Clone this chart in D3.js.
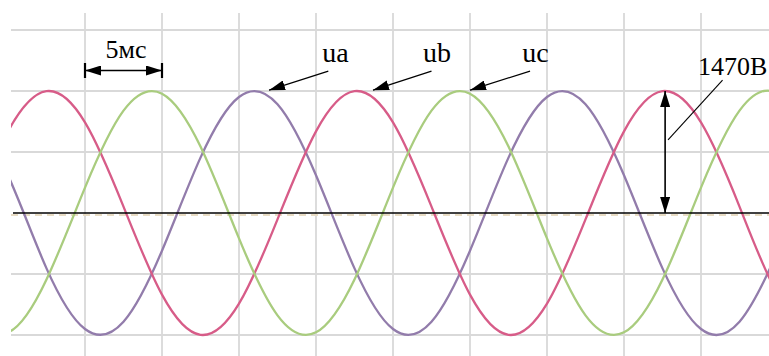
<!DOCTYPE html>
<html>
<head>
<meta charset="utf-8">
<script src="https://cdn.jsdelivr.net/npm/d3@7"></script>
<style>
  html, body { margin: 0; padding: 0; background: #fff; }
  svg { display: block; }
</style>
</head>
<body>
<script>
// Sample times, ms (one sample every 2.5 ms, slightly past both edges)
const timeMs = [-2.5, 0, 2.5, 5, 7.5, 10, 12.5, 15, 17.5, 20, 22.5, 25, 27.5,
                30, 32.5, 35, 37.5, 40, 42.5, 45, 47.5, 50, 52.5];
// Phase voltages, V
const ua = [1310, 454, -667, -1398, -1310, -454, 667, 1398, 1310, 454, -667, -1398,
            -1310, -454, 667, 1398, 1310, 454, -667, -1398, -1310, -454, 667];
const ub = [-77, 984, 1468, 1092, 77, -984, -1468, -1092, -77, 984, 1468, 1092,
            77, -984, -1468, -1092, -77, 984, 1468, 1092, 77, -984, -1468];
const uc = [-1233, -1438, -801, 306, 1233, 1438, 801, -306, -1233, -1438, -801, 306,
            1233, 1438, 801, -306, -1233, -1438, -801, 306, 1233, 1438, 801];

// Grid divisions: 5 ms horizontally, 735 V vertically
const gridTimes = [5, 10, 15, 20, 25, 30, 35, 40, 45];
const gridVolts = [-1470, -735, 0, 735, 1470, 2205];

// Phase labels with their pointer arrows (time in ms, voltage in V)
const phaseNames = ["ua", "ub", "uc"];
const labelTime  = [20.4, 26.95, 33.4];
const tipTime    = [16.95, 23.7, 30.0];
const tailTime   = [20.8, 27.5, 33.9];
const labelVolt = 1820, tipVolt = 1480, tailVolt = 1710;

// Period marker and amplitude marker
const periodSpan = [5, 10];          // ms
const periodText = "5мс";
const amplitude = 1470;              // V
const amplitudeText = "1470В";
const amplitudeTime = 42.67;         // ms, at a ub crest

const W = 769, H = 356;
const SERIF = "'Liberation Serif', 'Times New Roman', 'DejaVu Serif', serif";
const svg = d3.select("body").append("svg").attr("width", W).attr("height", H);
svg.append("rect").attr("width", W).attr("height", H).attr("fill", "#fff");

const x = d3.scaleLinear().domain([0, 50]).range([8, 778]);
const y = d3.scaleLinear().domain([-1470, 1470]).range([335, 91]);

const plotLeft = 11, plotRight = W, plotTop = 13, plotBottom = H;

const defs = svg.append("defs");
defs.append("clipPath").attr("id", "plot")
  .append("rect").attr("x", plotLeft).attr("y", plotTop)
  .attr("width", plotRight - plotLeft).attr("height", plotBottom - plotTop);
defs.append("filter").attr("id", "soft")
  .append("feGaussianBlur").attr("stdDeviation", 0.5);
defs.append("marker")
  .attr("id", "head").attr("viewBox", "0 0 16 10")
  .attr("refX", 16).attr("refY", 5)
  .attr("markerWidth", 16).attr("markerHeight", 10)
  .attr("markerUnits", "userSpaceOnUse")
  .attr("orient", "auto-start-reverse")
  .append("path").attr("d", "M0,0 L16,5 L0,10 Z").attr("fill", "#000");

// Grid
const grid = svg.append("g").attr("filter", "url(#soft)");
grid.selectAll("line.v").data(gridTimes).join("line")
  .attr("class", "v")
  .attr("x1", d => x(d)).attr("x2", d => x(d))
  .attr("y1", plotTop).attr("y2", plotBottom)
  .attr("stroke", "#d9d9d9").attr("stroke-width", 1.8);
grid.selectAll("line.h").data(gridVolts.filter(v => v !== 0)).join("line")
  .attr("class", "h")
  .attr("x1", plotLeft).attr("x2", plotRight)
  .attr("y1", d => y(d)).attr("y2", d => y(d))
  .attr("stroke", "#d9d9d9").attr("stroke-width", 1.8);
// faint trace baseline just under the zero line
grid.append("line")
  .attr("x1", plotLeft).attr("x2", plotRight)
  .attr("y1", y(0) + 2).attr("y2", y(0) + 2)
  .attr("stroke", "#e8dcc4").attr("stroke-width", 2)
  .attr("stroke-dasharray", "7,5");

// Waveforms
const series = [
  { name: "ua", values: ua, color: "#927cab" },
  { name: "ub", values: ub, color: "#d75c88" },
  { name: "uc", values: uc, color: "#a9cc7e" }
];
const line = d3.line()
  .x((d, i) => x(timeMs[i]))
  .y(d => y(d))
  .curve(d3.curveNatural);

const traces = svg.append("g").attr("clip-path", "url(#plot)")
  .append("g").attr("filter", "url(#soft)");
traces.selectAll("path").data(series).join("path")
  .attr("d", d => line(d.values))
  .attr("fill", "none")
  .attr("stroke", d => d.color)
  .attr("stroke-width", 2.3)
  .attr("stroke-linejoin", "round");

// Zero line
svg.append("line")
  .attr("x1", plotLeft + 2).attr("x2", plotRight)
  .attr("y1", y(0)).attr("y2", y(0))
  .attr("stroke", "#000").attr("stroke-width", 1.6);

const ann = svg.append("g");

// Period marker
const py = y(1717);
ann.append("line")
  .attr("x1", x(periodSpan[0])).attr("x2", x(periodSpan[1]))
  .attr("y1", py).attr("y2", py)
  .attr("stroke", "#000").attr("stroke-width", 1.4)
  .attr("marker-start", "url(#head)").attr("marker-end", "url(#head)");
ann.selectAll("line.tick").data(periodSpan).join("line")
  .attr("class", "tick")
  .attr("x1", d => x(d)).attr("x2", d => x(d))
  .attr("y1", py - 7.5).attr("y2", py + 7.5)
  .attr("stroke", "#000").attr("stroke-width", 2.2);
ann.append("text")
  .attr("x", x(7.66)).attr("y", y(1868))
  .attr("text-anchor", "middle")
  .attr("font-family", SERIF)
  .attr("font-size", 26)
  .text(periodText);

// Phase labels
phaseNames.forEach((name, i) => {
  ann.append("text")
    .attr("x", x(labelTime[i])).attr("y", y(labelVolt))
    .attr("font-family", SERIF)
    .attr("font-size", 28)
    .text(name);
  ann.append("line")
    .attr("x1", x(tailTime[i])).attr("y1", y(tailVolt))
    .attr("x2", x(tipTime[i])).attr("y2", y(tipVolt))
    .attr("stroke", "#000").attr("stroke-width", 1.2)
    .attr("marker-end", "url(#head)");
});

// Amplitude marker
ann.append("line")
  .attr("x1", x(amplitudeTime)).attr("x2", x(amplitudeTime))
  .attr("y1", y(0)).attr("y2", y(amplitude))
  .attr("stroke", "#000").attr("stroke-width", 1.6)
  .attr("marker-start", "url(#head)").attr("marker-end", "url(#head)");
ann.append("line")
  .attr("x1", x(46.4)).attr("y1", y(1602))
  .attr("x2", x(42.86)).attr("y2", y(880))
  .attr("stroke", "#000").attr("stroke-width", 1.1);
ann.append("text")
  .attr("x", x(44.8)).attr("y", y(1663))
  .attr("font-family", SERIF)
  .attr("font-size", 26)
  .text(amplitudeText);
</script>
</body>
</html>
